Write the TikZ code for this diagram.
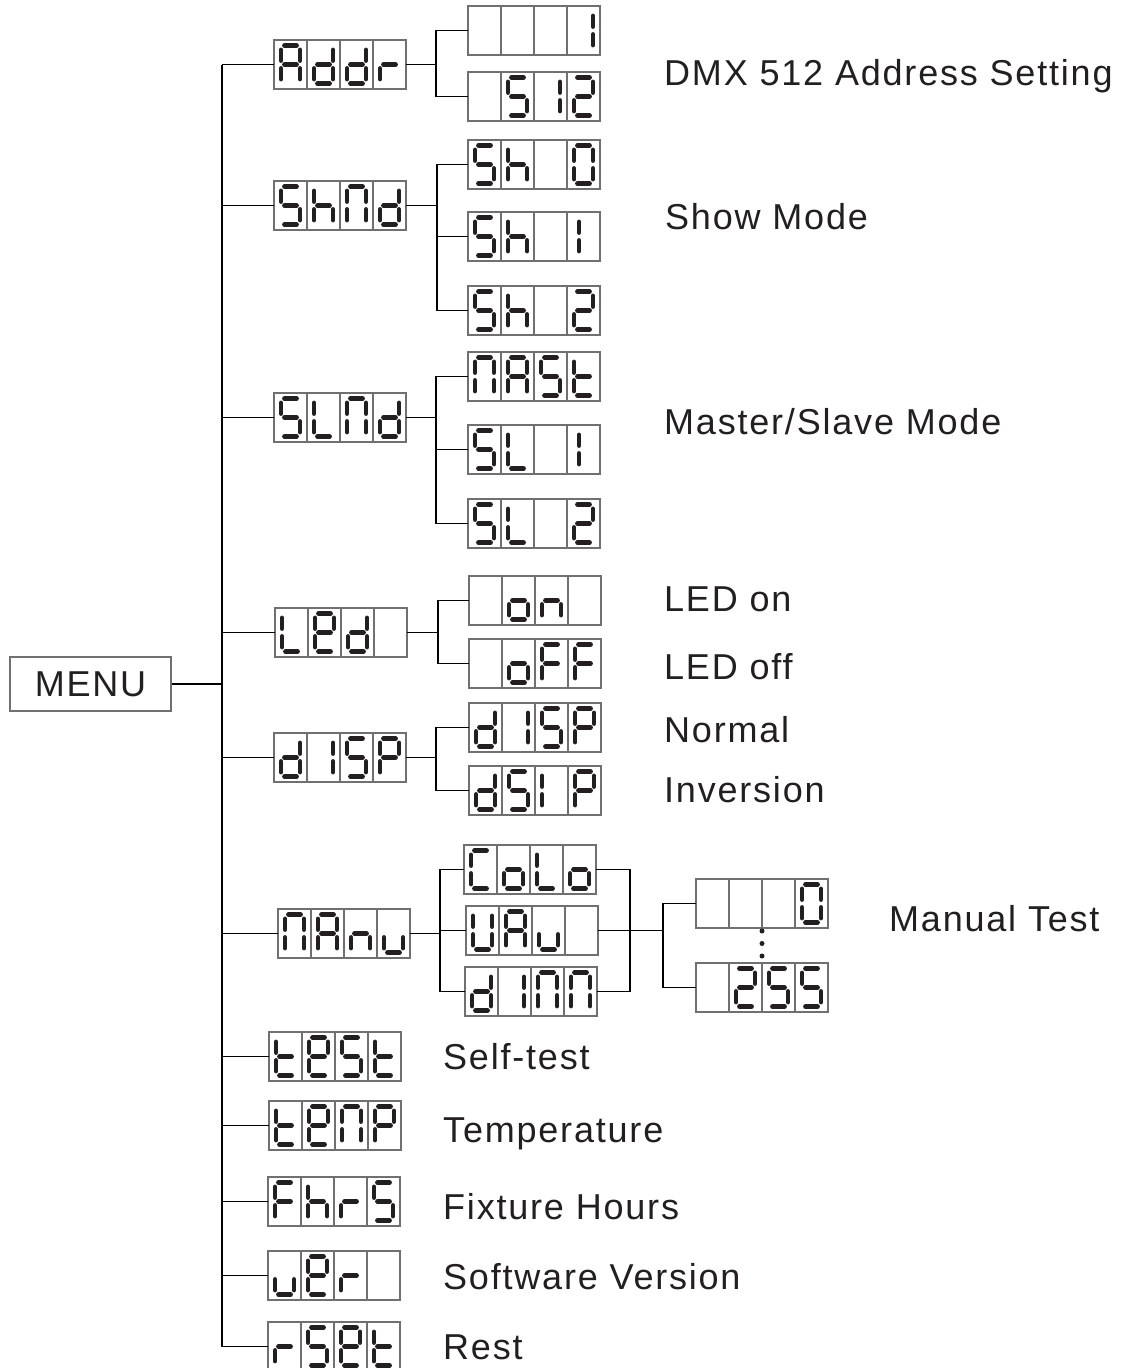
\documentclass[tikz,border=0pt]{standalone}
\usepackage{fontspec}
\newfontfamily\lab[LetterSpace=5]{Liberation Sans}
\definecolor{ink}{HTML}{231F20}
\definecolor{boxgray}{HTML}{707070}
% segments (cell-relative, y downward)
\def\Sa{10.5/5.5/22.5/5.5}
\def\Sb{26/10/26/20.5}
\def\Sc{26/28.5/26/39}
\def\Sd{10.5/43.5/22.5/43.5}
\def\Se{7/28.5/7/39}
\def\Sf{7/10/7/20.5}
\def\Sg{10.5/24.5/22.5/24.5}
\def\Sk{12/10/12/20.5}
\def\Sl{12/28.5/12/39}
\def\gX{}
\edef\gA{\Sa,\Sb,\Sc,\Se,\Sf,\Sg}
\edef\gd{\Sb,\Sc,\Sd,\Se,\Sg}
\edef\gr{\Se,\Sg}
\edef\gS{\Sa,\Sf,\Sg,\Sc,\Sd}
\edef\gh{\Sf,\Se,\Sg,\Sc}
\edef\gM{\Sa,\Sb,\Sc,\Se,\Sf}
\edef\gL{\Sf,\Se,\Sd}
\edef\gE{\Sa,\Sb,\Sf,\Sg,\Se,\Sd}
\edef\gzero{\Sa,\Sb,\Sc,\Sd,\Se,\Sf}
\edef\gone{\Sb,\Sc}
\edef\gtwo{\Sa,\Sb,\Sg,\Se,\Sd}
\edef\gt{\Sf,\Se,\Sg,\Sd}
\edef\go{\Sg,\Sc,\Sd,\Se}
\edef\gn{\Sg,\Sc,\Se}
\edef\gF{\Sa,\Sf,\Sg,\Se}
\edef\gP{\Sa,\Sb,\Sf,\Sg,\Se}
\edef\gC{\Sa,\Sf,\Se,\Sd}
\edef\gu{\Se,\Sd,\Sc}
\edef\gU{\Sb,\Sc,\Sd,\Se,\Sf}
\edef\gI{\Se,\Sf}
\edef\gk{\Sk,\Sl}
\tikzset{
  segline/.style={line width=4.8pt,line cap=round,draw=ink},
  dispbox/.style={draw=boxgray,line width=1.2pt,minimum width=132pt,minimum height=49pt,inner sep=0pt,outer sep=0pt},
  celldiv/.style={draw=boxgray,line width=1.1pt},
  conn/.style={draw=black,line width=1.4pt},
  trunk/.style={draw=black,line width=1.6pt},
  lbl/.style={font=\lab\fontsize{36}{42}\selectfont,text=ink,inner sep=0pt,anchor=base west},
  dotnode/.style={circle,fill=ink,inner sep=0pt,minimum size=5pt}
}
\newcommand\dglyph[3]{\ifx#3\gX\else
  \begin{scope}[shift={(#1,#2)}]
    \foreach \xa/\ya/\xb/\yb in #3 {\draw[segline] (\xa,\ya)--(\xb,\yb);}
  \end{scope}\fi}
\newcommand\disp[7]{%
  \node[dispbox] (#1) at (#2+66,#3+24.5) {};
  \draw[celldiv] (#2+33,#3)--(#2+33,#3+49) (#2+66,#3)--(#2+66,#3+49) (#2+99,#3)--(#2+99,#3+49);
  \dglyph{#2}{#3}{#4}\dglyph{#2+33}{#3}{#5}\dglyph{#2+66}{#3}{#6}\dglyph{#2+99}{#3}{#7}}
\begin{document}
\begin{tikzpicture}[x=1pt,y=-1pt]
\useasboundingbox (0,0) rectangle (1120,1368);
% MENU
\node[draw=boxgray,line width=1.2pt,minimum width=161pt,minimum height=54pt,inner sep=0pt,
  font=\lab\fontsize{36}{42}\selectfont,text=ink] (menu) at (90.5,684) {MENU};
% level 1
\disp{addr}{274}{40}{\gA}{\gd}{\gd}{\gr}
\disp{shmd}{274}{181}{\gS}{\gh}{\gM}{\gd}
\disp{slmd}{274}{393}{\gS}{\gL}{\gM}{\gd}
\disp{led}{275}{608}{\gL}{\gE}{\gd}{\gX}
\disp{disp}{274}{733}{\gd}{\gone}{\gS}{\gP}
\disp{manu}{278}{909}{\gM}{\gA}{\gn}{\gu}
\disp{test}{269}{1032}{\gt}{\gE}{\gS}{\gt}
\disp{temp}{269}{1101}{\gt}{\gE}{\gM}{\gP}
\disp{fhrs}{268}{1177}{\gF}{\gh}{\gr}{\gS}
\disp{uer}{268}{1251}{\gu}{\gE}{\gr}{\gX}
\disp{rset}{268}{1322}{\gr}{\gS}{\gE}{\gt}
% level 2
\disp{a1}{468}{6}{\gX}{\gX}{\gX}{\gone}
\disp{a2}{468}{72}{\gX}{\gS}{\gone}{\gtwo}
\disp{s0}{468}{140}{\gS}{\gh}{\gX}{\gzero}
\disp{s1}{468}{212}{\gS}{\gh}{\gX}{\gk}
\disp{s2}{468}{286}{\gS}{\gh}{\gX}{\gtwo}
\disp{m0}{468}{352}{\gM}{\gA}{\gS}{\gt}
\disp{m1}{468}{425}{\gS}{\gL}{\gX}{\gk}
\disp{m2}{468}{499}{\gS}{\gL}{\gX}{\gtwo}
\disp{on}{469}{576}{\gX}{\go}{\gn}{\gX}
\disp{off}{469}{639}{\gX}{\go}{\gF}{\gF}
\disp{d0}{469}{703}{\gd}{\gone}{\gS}{\gP}
\disp{d1}{469}{766}{\gd}{\gS}{\gI}{\gP}
\disp{colo}{464}{845}{\gC}{\go}{\gL}{\go}
\disp{uau}{466}{906}{\gU}{\gA}{\gu}{\gX}
\disp{dimm}{465}{967}{\gd}{\gone}{\gM}{\gM}
\disp{v0}{696}{879}{\gX}{\gX}{\gX}{\gzero}
\disp{v1}{696}{963}{\gX}{\gtwo}{\gS}{\gS}
\node[dotnode] (dt1) at (762,931) {};
\node[dotnode] (dt2) at (762,943.5) {};
\node[dotnode] (dt3) at (762,956) {};
% trunk
\coordinate (trtop) at (222,64.5);
\coordinate (trbot) at (222,1346.5);
\draw[trunk] (trtop)--(trbot);
\draw[conn] (menu.east) -- (menu.east -| trtop);
\foreach \n in {addr,shmd,slmd,led,disp,manu,test,temp,fhrs,uer,rset}
  {\draw[conn] (\n.west) -- (\n.west -| trtop);}
% brackets
\coordinate (ba) at (436,0);
\draw[conn] (addr.east) -- (addr.east -| ba);
\draw[conn] (a1.west) -- (a1.west -| ba) -- (a2.west -| ba) -- (a2.west);
\coordinate (bs) at (437,0);
\draw[conn] (shmd.east) -- (shmd.east -| bs);
\draw[conn] (s0.west) -- (s0.west -| bs) -- (s2.west -| bs) -- (s2.west);
\draw[conn] (s1.west) -- (s1.west -| bs);
\coordinate (bm) at (436,0);
\draw[conn] (slmd.east) -- (slmd.east -| bm);
\draw[conn] (m0.west) -- (m0.west -| bm) -- (m2.west -| bm) -- (m2.west);
\draw[conn] (m1.west) -- (m1.west -| bm);
\coordinate (bl) at (438,0);
\draw[conn] (led.east) -- (led.east -| bl);
\draw[conn] (on.west) -- (on.west -| bl) -- (off.west -| bl) -- (off.west);
\coordinate (bd) at (436,0);
\draw[conn] (disp.east) -- (disp.east -| bd);
\draw[conn] (d0.west) -- (d0.west -| bd) -- (d1.west -| bd) -- (d1.west);
\coordinate (bu) at (440,0);
\draw[conn] (manu.east) -- (manu.east -| bu);
\draw[conn] (colo.west) -- (colo.west -| bu) -- (dimm.west -| bu) -- (dimm.west);
\draw[conn] (uau.west) -- (uau.west -| bu);
\coordinate (br) at (630,0);
\draw[conn] (colo.east) -- (colo.east -| br) -- (dimm.east -| br) -- (dimm.east);
\draw[conn] (uau.east) -- (uau.east -| br);
\coordinate (bv) at (663,0);
\draw[conn] (uau.east -| br) -- (uau.east -| bv);
\draw[conn] (v0.west) -- (v0.west -| bv) -- (v1.west -| bv) -- (v1.west);
% labels
\node[lbl] (t1) at (664,85) {DMX 512 Address Setting};
\node[lbl] (t2) at (665,229) {Show Mode};
\node[lbl] (t3) at (664,434) {Master/Slave Mode};
\node[lbl] (t4) at (664,611) {LED on};
\node[lbl] (t5) at (664,679) {LED off};
\node[lbl] (t6) at (664,742) {Normal};
\node[lbl] (t7) at (664,802) {Inversion};
\node[lbl] (t8) at (889,931) {Manual Test};
\node[lbl] (t9) at (443,1069) {Self-test};
\node[lbl] (t10) at (443,1142) {Temperature};
\node[lbl] (t11) at (443,1219) {Fixture Hours};
\node[lbl] (t12) at (443,1289) {Software Version};
\node[lbl] (t13) at (443,1359) {Rest};
\end{tikzpicture}
\end{document}
